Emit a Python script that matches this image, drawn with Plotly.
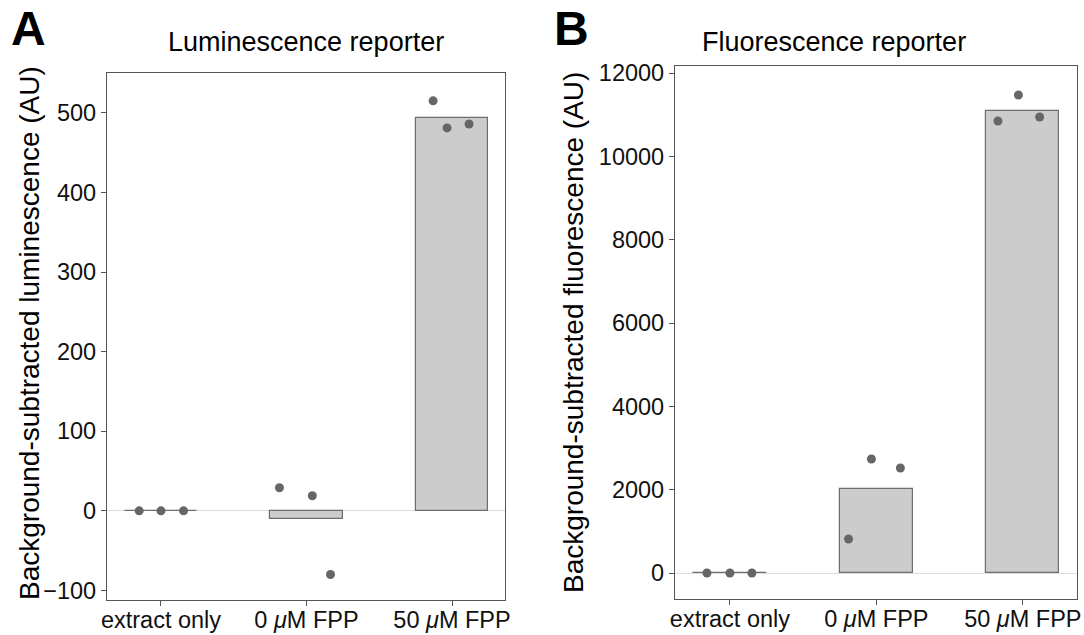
import plotly.graph_objects as go

categories = ["extract only", "0 <i>μ</i>M FPP", "50 <i>μ</i>M FPP"]

lum_points = [[0, 0, 0], [29, 19, -80], [515, 481, 486]]
lum_jitter = [[-0.15, 0.0, 0.155], [-0.186, 0.04, 0.165], [-0.13, -0.034, 0.117]]

flu_points = [[0, 0, 0], [2736, 2520, 816], [10848, 11471, 10944]]
flu_jitter = [[-0.157, 0.0, 0.15], [-0.034, 0.164, -0.19], [-0.17, -0.03, 0.115]]

lum_ticks = [-100, 0, 100, 200, 300, 400, 500]
flu_ticks = [0, 2000, 4000, 6000, 8000, 10000, 12000]

FONT = "Liberation Sans, Arial, sans-serif"
W, H = 1084, 635

fig = go.Figure()

def add_panel(points, jitter, xa, ya):
    means = [sum(p) / len(p) for p in points]
    fig.add_trace(go.Bar(
        x=list(range(len(categories))), y=means, width=0.5,
        marker=dict(color="#cccccc", line=dict(color="#6e6e6e", width=1.2)),
        xaxis=xa, yaxis=ya, showlegend=False,
    ))
    xs, ys = [], []
    for i, (pts, jit) in enumerate(zip(points, jitter)):
        for v, j in zip(pts, jit):
            xs.append(i + j)
            ys.append(v)
    fig.add_trace(go.Scatter(
        x=xs, y=ys, mode="markers",
        marker=dict(color="#666666", size=9),
        xaxis=xa, yaxis=ya, showlegend=False,
    ))

add_panel(lum_points, lum_jitter, "x", "y")
add_panel(flu_points, flu_jitter, "x2", "y2")

def px_x(p):
    return p / W

def px_y(p):
    return 1 - p / H

axis_common = dict(
    showline=True, mirror=True, linecolor="#555555", linewidth=1.2,
    ticks="outside", ticklen=5, tickcolor="#555555",
    tickfont=dict(family=FONT, size=23.5, color="#111111"),
    showgrid=False, automargin=False,
)

fig.update_layout(
    width=W, height=H,
    margin=dict(l=0, r=0, t=0, b=0),
    paper_bgcolor="white", plot_bgcolor="white",
    bargap=0,
    xaxis=dict(domain=[px_x(107), px_x(505)], anchor="y", range=[-0.371, 2.364],
               tickvals=[0, 1, 2], ticktext=categories, zeroline=False,
               ticklabelstandoff=-6, **axis_common),
    yaxis=dict(domain=[px_y(600), px_y(73)], anchor="x", range=[-112, 550],
               tickvals=lum_ticks, ticktext=["\u2212100"] + [str(t) for t in lum_ticks[1:]],
               zeroline=True, zerolinecolor="#dddddd", zerolinewidth=1, **axis_common),
    xaxis2=dict(domain=[px_x(675), px_x(1077)], anchor="y2", range=[-0.375, 2.37],
                tickvals=[0, 1, 2], ticktext=categories, zeroline=False,
                ticklabelstandoff=-6, **axis_common),
    yaxis2=dict(domain=[px_y(599), px_y(66)], anchor="x2", range=[-624, 12168],
                tickvals=flu_ticks, ticktext=[str(t) for t in flu_ticks],
                zeroline=True, zerolinecolor="#dddddd", zerolinewidth=1, **axis_common),
)

ann = [
    dict(text="<b>A</b>", x=px_x(9), y=px_y(28), xanchor="left", yanchor="middle",
         font=dict(family=FONT, size=48, color="black")),
    dict(text="<b>B</b>", x=px_x(552), y=px_y(28), xanchor="left", yanchor="middle",
         font=dict(family=FONT, size=48, color="black")),
    dict(text="Luminescence reporter", x=px_x(306), y=px_y(42), xanchor="center", yanchor="middle",
         font=dict(family=FONT, size=27, color="black")),
    dict(text="Fluorescence reporter", x=px_x(834), y=px_y(42), xanchor="center", yanchor="middle",
         font=dict(family=FONT, size=27, color="black")),
    dict(text="Background-subtracted luminescence (AU)", x=px_x(29), y=px_y(333),
         xanchor="center", yanchor="middle", textangle=-90,
         font=dict(family=FONT, size=28, color="black")),
    dict(text="Background-subtracted fluorescence (AU)", x=px_x(573), y=px_y(333),
         xanchor="center", yanchor="middle", textangle=-90,
         font=dict(family=FONT, size=28, color="black")),
]
for a in ann:
    a.update(xref="paper", yref="paper", showarrow=False)
fig.update_layout(annotations=ann)

fig.write_html("out.html")
